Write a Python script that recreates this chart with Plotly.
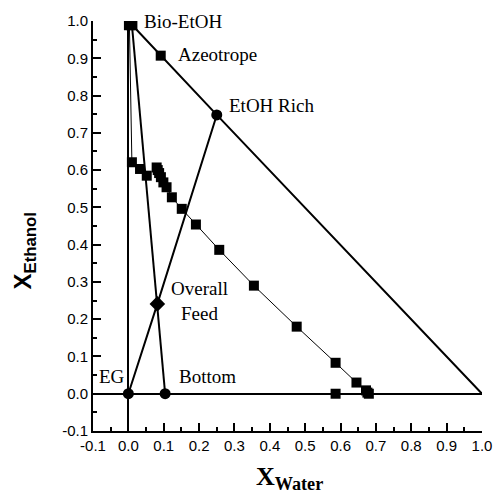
import plotly.graph_objects as go

# ---- data ----
tick_vals = [-0.1, 0.0, 0.1, 0.2, 0.3, 0.4, 0.5, 0.6, 0.7, 0.8, 0.9, 1.0]
tick_text = ["-0.1", "0.0", "0.1", "0.2", "0.3", "0.4", "0.5", "0.6", "0.7", "0.8", "0.9", "1.0"]

# triangle hypotenuse (Bio-EtOH -> Azeotrope -> EtOH Rich -> pure water)
hyp_x = [0.01, 0.0915, 0.25, 1.0]
hyp_y = [0.99, 0.907, 0.748, 0.0]

# Bio-EtOH -> Overall Feed -> Bottom
bb_x = [0.01, 0.082, 0.104]
bb_y = [0.99, 0.241, 0.0]

# EG -> Overall Feed -> EtOH Rich
eg_x = [0.0, 0.082, 0.25]
eg_y = [0.0, 0.241, 0.748]

# EG-rich phase branch
br1_x = [0.003, 0.01, 0.033, 0.052]
br1_y = [0.99, 0.621, 0.603, 0.585]

# binodal branch
br2_x = [0.08, 0.083, 0.087, 0.092, 0.099, 0.108, 0.123, 0.151, 0.191, 0.257, 0.355, 0.476, 0.586, 0.645, 0.672, 0.676]
br2_y = [0.607, 0.600, 0.592, 0.581, 0.567, 0.554, 0.527, 0.496, 0.454, 0.386, 0.29, 0.18, 0.083, 0.03, 0.009, 0.003]

# points on the x axis
base_x = [0.586, 0.68]
base_y = [0.0, 0.0]

# labelled points
bio_x, bio_y = [0.003, 0.01], [0.99, 0.99]
aze_x, aze_y = [0.0915], [0.907]
rich_x, rich_y = [0.25], [0.748]
feed_x, feed_y = [0.082], [0.241]
circ_x, circ_y = [0.0, 0.104], [0.0, 0.0]

fig = go.Figure()

def line(x, y, w, mode="lines", symbol="square", size=10):
    fig.add_trace(go.Scatter(x=x, y=y, mode=mode, line=dict(color="black", width=w),
                             marker=dict(symbol=symbol, size=size, color="black"),
                             showlegend=False, hoverinfo="skip"))

line(hyp_x, hyp_y, 2)
line(bb_x, bb_y, 2)
line(eg_x, eg_y, 2)
line(br1_x[1:], br1_y[1:], 1, mode="lines+markers")
line(br1_x[:2], br1_y[:2], 1)
line(br2_x, br2_y, 1, mode="lines+markers")
line(base_x, base_y, 1, mode="markers")
line(bio_x, bio_y, 1, mode="markers", size=11)
line(aze_x, aze_y, 1, mode="markers", size=10)
line(rich_x, rich_y, 1, mode="markers", symbol="circle", size=11)
line(feed_x, feed_y, 1, mode="markers", symbol="diamond", size=12)
line(circ_x, circ_y, 1, mode="markers", symbol="circle", size=11)

serif = "Liberation Serif, Times New Roman, serif"
lab_font = dict(family=serif, size=19, color="black")
labels = [
    ("Bio-EtOH", 0.039, 0.998, "left"),
    ("Azeotrope", 0.135, 0.91, "left"),
    ("EtOH Rich", 0.278, 0.774, "left"),
    ("Overall<br>Feed", 0.201, 0.25, "center"),
    ("EG", -0.045, 0.046, "center"),
    ("Bottom", 0.224, 0.046, "center"),
]
for t, x, y, xa in labels:
    fig.add_annotation(text=t, x=x, y=y, xref="x", yref="y", showarrow=False,
                       xanchor=xa, yanchor="middle", font=lab_font, align="center")

fig.add_annotation(text="<b>X<sub>Ethanol</sub></b>", xref="paper", yref="paper",
                   x=-0.175, y=0.44, showarrow=False, textangle=-90,
                   font=dict(family="Liberation Sans, Arial, sans-serif", size=24, color="black"),
                   xanchor="center", yanchor="middle")
fig.add_annotation(text="<b>X<sub>Water</sub></b>", xref="paper", yref="paper",
                   x=0.506, y=-0.115, showarrow=False,
                   font=dict(family=serif, size=26, color="black"),
                   xanchor="center", yanchor="middle")

axis_common = dict(
    range=[-0.1, 1.0], tickmode="array", tickvals=tick_vals, ticktext=tick_text,
    showgrid=False, zeroline=True, zerolinecolor="black", zerolinewidth=2,
    showline=True, linecolor="black", linewidth=2, mirror=False, automargin=False,
    ticks="inside", ticklen=8, tickwidth=2, tickcolor="black",
    tickfont=dict(family="Liberation Sans, Arial, sans-serif", size=15, color="black"),
    minor=dict(ticks="inside", ticklen=4, tickwidth=2, tickcolor="black", tickmode="linear", tick0=0.05, dtick=0.1),
)
fig.update_xaxes(**axis_common)
fig.update_yaxes(**axis_common)

fig.update_layout(width=495, height=497, margin=dict(l=93, r=13, t=21, b=66, autoexpand=False),
                  plot_bgcolor="white", paper_bgcolor="white")

fig.write_html("out.html")
